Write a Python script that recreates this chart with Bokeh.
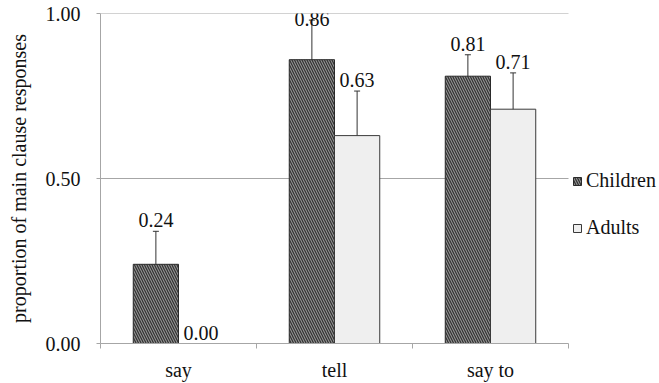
from bokeh.plotting import figure
from bokeh.models import (ColumnDataSource, Range1d, FixedTicker, PrintfTickFormatter,
                          Whisker, TeeHead, Legend, LegendItem)
from bokeh.core.properties import value
from bokeh.embed import file_html
from bokeh.resources import INLINE

categories = ["say", "tell", "say to"]
children = [0.24, 0.86, 0.81]
children_lower = [0.14, 0.765, 0.755]
children_upper = [0.34, 0.98, 0.875]
adults = [0.00, 0.63, 0.71]
adults_lower = [0.00, 0.485, 0.60]
adults_upper = [0.00, 0.765, 0.82]
y_ticks = [0.0, 0.5, 1.0]
grid_values = [0.5, 1.0]

FONT = "Liberation Serif"
TXT = "#111111"
GRAY = "#a6a6a6"
BAR_W = 0.29
LABEL_CAP = 0.95  # value labels never go above this height

W, H = 659, 383
LEFT, TOP, BOTTOM = 100, 13, 40
AXIS_PX = 468                   # pixels spanned by the three categories
n = len(categories)
x_end = n * (W - LEFT) / AXIS_PX  # extra room right of the axis for the legend

centers = [i + 0.5 for i in range(n)]


def make_source(vals, lo, hi, shift):
    return ColumnDataSource(dict(
        x=[c + shift for c in centers], top=vals, lower=lo, upper=hi,
        label_y=[min(h, LABEL_CAP) for h in hi],
        label=[f"{v:.2f}" for v in vals]))


src_c = make_source(children, children_lower, children_upper, -BAR_W / 2)
src_a = make_source(adults, adults_lower, adults_upper, BAR_W / 2)

p = figure(width=W, height=H, output_backend="svg", toolbar_location=None,
           x_range=Range1d(0, x_end), y_range=Range1d(0, 1),
           min_border_left=LEFT, min_border_right=0, min_border_top=TOP,
           min_border_bottom=BOTTOM)
p.outline_line_color = None
p.background_fill_color = "white"

# horizontal grid lines limited to the category area
p.segment(x0=[0] * len(grid_values), x1=[n] * len(grid_values),
          y0=grid_values, y1=grid_values, line_color=GRAY, line_width=1)

rc = p.vbar(x="x", top="top", width=BAR_W, source=src_c,
            fill_color="#939393", line_color="#2a2a2a", line_width=1,
            hatch_pattern="\\", hatch_color="#303030", hatch_scale=5,
            hatch_weight=1.2)
ra = p.vbar(x="x", top="top", width=BAR_W, source=src_a,
            fill_color="#efefef", line_color="#3a3a3a", line_width=1)

for src in (src_c, src_a):
    w = Whisker(base="x", lower="lower", upper="upper", source=src,
                line_color="#333333", line_width=1,
                upper_head=TeeHead(size=6, line_color="#333333", line_width=1),
                lower_head=TeeHead(size=6, line_color="#333333", line_width=1))
    p.add_layout(w)
    p.text(x="x", y="label_y", text="label", source=src,
           text_align="center", text_baseline="bottom", y_offset=-4,
           text_font=value(FONT), text_font_size="20px", text_color=TXT)

# axes
p.xaxis.bounds = (0, n)
p.xaxis.ticker = FixedTicker(ticks=centers, minor_ticks=list(range(n + 1)))
p.xaxis.major_label_overrides = {c: cat for c, cat in zip(centers, categories)}
p.xaxis.major_tick_line_color = None
p.xaxis.major_tick_out = 5
p.xaxis.minor_tick_line_color = GRAY
p.xaxis.minor_tick_out = 5
p.xaxis.minor_tick_in = 0
p.xaxis.axis_line_color = GRAY
p.xaxis.major_label_standoff = 10
p.xaxis.major_label_text_font = FONT
p.xaxis.major_label_text_font_size = "20px"
p.xaxis.major_label_text_color = TXT

p.yaxis.ticker = FixedTicker(ticks=y_ticks, minor_ticks=[])
p.yaxis.formatter = PrintfTickFormatter(format="%.2f")
p.yaxis.axis_line_color = GRAY
p.yaxis.major_tick_line_color = GRAY
p.yaxis.major_tick_out = 4
p.yaxis.major_tick_in = 0
p.yaxis.major_label_standoff = 16
p.yaxis.major_label_text_font = FONT
p.yaxis.major_label_text_font_size = "20px"
p.yaxis.major_label_text_color = TXT
p.yaxis.axis_label = "proportion of main clause responses"
p.yaxis.axis_label_text_font = FONT
p.yaxis.axis_label_text_font_size = "20px"
p.yaxis.axis_label_text_font_style = "normal"
p.yaxis.axis_label_text_color = TXT
p.yaxis.axis_label_standoff = 13

p.xgrid.grid_line_color = None
p.ygrid.grid_line_color = None

legend = Legend(items=[LegendItem(label="Children", renderers=[rc]),
                       LegendItem(label="Adults", renderers=[ra])],
                location=(AXIS_PX + 4, 104), padding=0, margin=0, spacing=24,
                glyph_width=10, glyph_height=10, label_standoff=4,
                label_height=20, label_text_font=FONT,
                label_text_font_size="20px", label_text_color=TXT,
                border_line_color=None, background_fill_alpha=0)
p.add_layout(legend, "center")

open("out.html", "w").write(file_html(p, INLINE))
